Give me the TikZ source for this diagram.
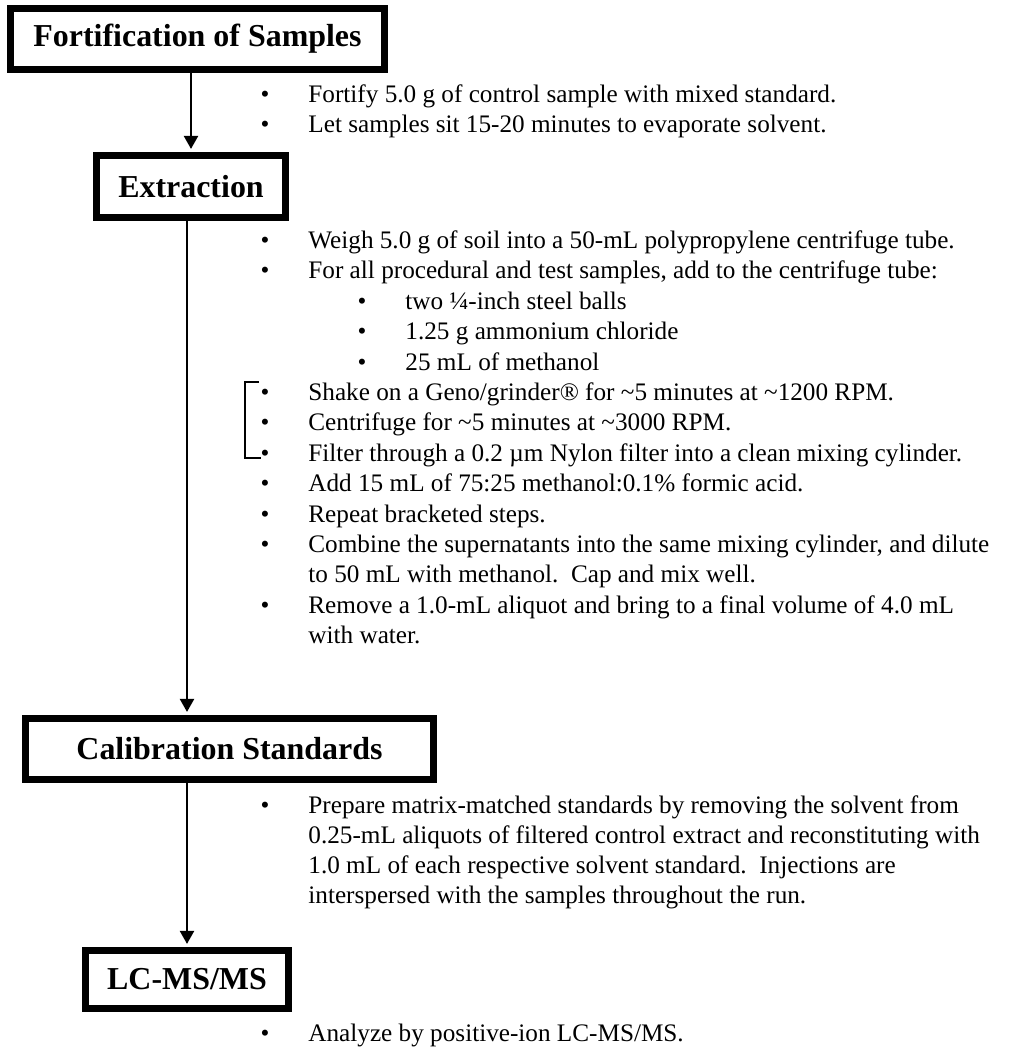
\documentclass[tikz,border=0pt]{standalone}
\usepackage{fontspec}
\setmainfont{Liberation Serif}
\usepackage{tikz}
\usetikzlibrary{arrows.meta,positioning}
\tikzset{
  stage/.style={draw,line width=3.3pt,inner sep=0pt,
    font=\fontsize{15.2}{18}\selectfont\bfseries},
  item/.style={anchor=base west,inner sep=0pt,font=\fontsize{12}{14}\selectfont},
  dot/.style={anchor=base,inner sep=0pt,font=\fontsize{12}{14}\selectfont},
  flow/.style={-{Triangle[length=6.2pt,width=6.7pt]},line width=1pt,shorten >=1.5pt},
  bracket/.style={line width=0.5pt}
}
\begin{document}
\begin{tikzpicture}[x=0.476pt,y=-0.476pt]
  \useasboundingbox (0,0) rectangle (1032,1049);
  % stages
  \node[stage,minimum width=178pt,minimum height=29pt] (fort) at (197.5,39) {Fortification of Samples};
  \node[stage,minimum width=90pt,minimum height=29.5pt] (ext) at (191,186.5) {Extraction};
  \node[stage,minimum width=194.2pt,minimum height=29pt] (cal) at (229.5,749) {Calibration Standards};
  \node[stage,minimum width=96.6pt,minimum height=27.6pt] (lcms) at (187,979.5) {LC-MS/MS};
  \draw[flow] (ext |- fort.south) -- (ext.north);
  \draw[flow] (ext.south -| lcms) -- (lcms |- cal.north);
  \draw[flow] (cal.south -| lcms) -- (lcms.north);
  % bulleted steps
  \foreach \y/\txt in {
    102/{Fortify 5.0 g of control sample with mixed standard.},
    132/{Let samples sit 15-20 minutes to evaporate solvent.},
    248/{Weigh 5.0 g of soil into a 50-mL polypropylene centrifuge tube.},
    278/{For all procedural and test samples, add to the centrifuge tube:},
    400/{Shake on a Geno/grinder® for \textasciitilde5 minutes at \textasciitilde1200 RPM.},
    430/{Centrifuge for \textasciitilde5 minutes at \textasciitilde3000 RPM.},
    461/{Filter through a 0.2 µm Nylon filter into a clean mixing cylinder.},
    491/{Add 15 mL of 75:25 methanol:0.1\% formic acid.},
    522/{Repeat bracketed steps.},
    552/{Combine the supernatants into the same mixing cylinder, and dilute},
    613/{Remove a 1.0-mL aliquot and bring to a final volume of 4.0 mL},
    813/{Prepare matrix-matched standards by removing the solvent from},
    1041/{Analyze by positive-ion LC-MS/MS.}
  } {
    \node[dot] (dot-\y) at (265,\y) {\textbullet};
    \node[item] (txt-\y) at (308,\y) {\txt};
  }
  % sub items
  \foreach \y/\txt in {
    309/{two ¼-inch steel balls},
    339/{1.25 g ammonium chloride},
    370/{25 mL of methanol}
  } {
    \node[dot] (dot-\y) at (362,\y) {\textbullet};
    \node[item] (txt-\y) at (405,\y) {\txt};
  }
  % wrapped lines
  \foreach \y/\txt in {
    582/{to 50 mL with methanol.\ \ Cap and mix well.},
    643/{with water.},
    843/{0.25-mL aliquots of filtered control extract and reconstituting with},
    873/{1.0 mL of each respective solvent standard.\ \ Injections are},
    903/{interspersed with the samples throughout the run.}
  } {
    \node[item] (txt-\y) at (308,\y) {\txt};
  }
  \draw[bracket] (259,382) -| (245,458) -- (261,458);
\end{tikzpicture}
\end{document}
